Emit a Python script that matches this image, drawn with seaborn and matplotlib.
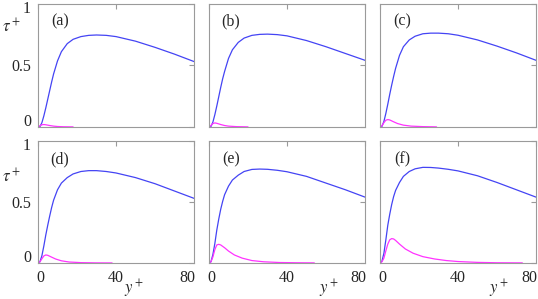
import numpy as np
import pandas as pd
import matplotlib
matplotlib.use("Agg")
import matplotlib.pyplot as plt
import matplotlib.transforms as mtransforms
import seaborn as sns

# wall distance grid used by the blue (total) curves
yplus = [0, 1, 2, 3, 4, 5, 6, 7, 8, 10, 12, 15, 18, 22, 26, 30, 35, 40, 50, 60, 70, 80]

tau_a = [0, 0.003, 0.035, 0.09, 0.155, 0.225, 0.295, 0.365, 0.43, 0.535, 0.61, 0.675, 0.71, 0.732, 0.742, 0.745, 0.742, 0.732, 0.695, 0.645, 0.59, 0.53]
tau_b = [0, 0.004, 0.04, 0.10, 0.17, 0.245, 0.32, 0.39, 0.45, 0.555, 0.625, 0.685, 0.72, 0.742, 0.75, 0.752, 0.748, 0.738, 0.70, 0.65, 0.595, 0.54]
tau_c = [0, 0.005, 0.045, 0.11, 0.185, 0.265, 0.34, 0.41, 0.475, 0.58, 0.65, 0.705, 0.735, 0.755, 0.76, 0.76, 0.755, 0.743, 0.705, 0.655, 0.60, 0.54]
tau_d = [0, 0.01, 0.06, 0.14, 0.23, 0.31, 0.385, 0.455, 0.515, 0.60, 0.655, 0.70, 0.73, 0.75, 0.757, 0.757, 0.75, 0.738, 0.70, 0.65, 0.59, 0.53]
tau_e = [0, 0.01, 0.07, 0.16, 0.27, 0.36, 0.44, 0.505, 0.56, 0.63, 0.68, 0.72, 0.75, 0.767, 0.77, 0.768, 0.76, 0.748, 0.71, 0.655, 0.60, 0.54]
tau_f = [0, 0.015, 0.08, 0.19, 0.31, 0.40, 0.48, 0.545, 0.595, 0.66, 0.71, 0.75, 0.772, 0.784, 0.783, 0.778, 0.768, 0.755, 0.715, 0.66, 0.60, 0.54]

# magenta curves (each has its own extent)
mx_a = [0, 1, 2, 3, 4, 6, 8, 10, 13, 18]
mt_a = [0, 0.01, 0.018, 0.02, 0.018, 0.012, 0.007, 0.004, 0.002, 0.001]
mx_b = [0, 1, 2, 3, 4, 6, 8, 10, 14, 20]
mt_b = [0, 0.012, 0.028, 0.033, 0.03, 0.02, 0.012, 0.007, 0.003, 0.001]
mx_c = [0, 1, 2, 3, 4, 5, 7, 9, 12, 16, 22, 29]
mt_c = [0, 0.01, 0.035, 0.055, 0.06, 0.057, 0.042, 0.028, 0.015, 0.007, 0.003, 0.001]
mx_d = [0, 1, 2, 3, 4, 5, 7, 9, 12, 16, 22, 30, 38]
mt_d = [0, 0.01, 0.035, 0.058, 0.066, 0.063, 0.048, 0.033, 0.018, 0.008, 0.003, 0.001, 0.0005]
mx_e = [0, 1, 2, 3, 4, 5, 6, 8, 10, 13, 17, 22, 28, 36, 45, 54]
mt_e = [0, 0.01, 0.05, 0.11, 0.148, 0.153, 0.148, 0.125, 0.098, 0.066, 0.04, 0.02, 0.01, 0.004, 0.002, 0.001]
mx_f = [0, 1, 2, 3, 4, 5, 6, 7, 8, 10, 13, 17, 22, 28, 34, 40, 50, 60, 73]
mt_f = [0, 0.01, 0.04, 0.10, 0.155, 0.19, 0.20, 0.197, 0.185, 0.155, 0.115, 0.08, 0.052, 0.033, 0.02, 0.012, 0.005, 0.002, 0.001]

panel_labels = ["(a)", "(b)", "(c)", "(d)", "(e)", "(f)"]
blue_tau = [tau_a, tau_b, tau_c, tau_d, tau_e, tau_f]
mag_x = [mx_a, mx_b, mx_c, mx_d, mx_e, mx_f]
mag_t = [mt_a, mt_b, mt_c, mt_d, mt_e, mt_f]
xticks = [0, 40, 80]
xticklabels = ["0", "40", "80"]
yticks = [0, 0.5, 1]
yticklabels = ["0", "0.5", "1"]

sns.set_style("white")
plt.rcParams["font.family"] = ["Liberation Serif", "DejaVu Serif"]
plt.rcParams["mathtext.fontset"] = "stix"

W, H = 538, 299
fig = plt.figure(figsize=(W / 100, H / 100), dpi=100)

# panel boxes in pixels: column lefts, row (top, bottom)
lefts = [38, 209, 380]
rows = [(3.5, 127), (141, 263)]
frame_col = "#9a9a9a"

def px(dx, dy):
    # offset in pixels (fig dpi is 100)
    return mtransforms.ScaledTranslation(dx / 100, dy / 100, fig.dpi_scale_trans)

for i in range(6):
    r, c = divmod(i, 3)
    top, bot = rows[r]
    l = lefts[c]
    ax = fig.add_axes([l / W, (H - bot) / H, 156 / W, (bot - top) / H])

    blue = pd.DataFrame({"y": yplus, "tau": blue_tau[i]})
    mag = pd.DataFrame({"y": mag_x[i], "tau": mag_t[i]})
    sns.lineplot(data=blue, x="y", y="tau", ax=ax, color="#4444f4", lw=0.9)
    sns.lineplot(data=mag, x="y", y="tau", ax=ax, color="#ff33ff", lw=0.9)

    ax.set_xlim(0, 80)
    ax.set_ylim(0, 1)
    ax.set_xticks(xticks)
    ax.set_yticks(yticks)
    ax.set_xlabel("")
    ax.set_ylabel("")
    for s in ax.spines.values():
        s.set_color(frame_col)
        s.set_linewidth(0.8)
    ax.tick_params(direction="in", length=3.6, width=0.8, color=frame_col,
                   top=True, right=True, labelsize=11.5, pad=5,
                   labelbottom=(r == 1), labelleft=(c == 0))
    ax.text(22 / 156, 1 - 18 / (bot - top), panel_labels[i], transform=ax.transAxes,
            ha="center", va="center", fontsize=11.5)

    # nudge the end labels inwards like the original
    if c == 0:
        ax.set_yticklabels(yticklabels)
        ylabs = ax.get_yticklabels()
        ylabs[0].set_transform(ylabs[0].get_transform() + px(0, 7))
        ylabs[2].set_transform(ylabs[2].get_transform() + px(0, -3))
    if r == 1:
        ax.set_xticklabels(xticklabels)
        xlabs = ax.get_xticklabels()
        xlabs[0].set_transform(xlabs[0].get_transform() + px(2, 0))
        xlabs[2].set_transform(xlabs[2].get_transform() + px(-7, 0))

# axis titles
for ty in [27.5, 177.5]:
    fig.text(2.5 / W, 1 - ty / H, r"$\tau^+$", ha="left", va="center", fontsize=12)
for tx in [134, 329, 499]:
    fig.text(tx / W, 1 - 289 / H, r"$y^+$", ha="center", va="center", fontsize=12)

fig.savefig("out.png", dpi=100)
